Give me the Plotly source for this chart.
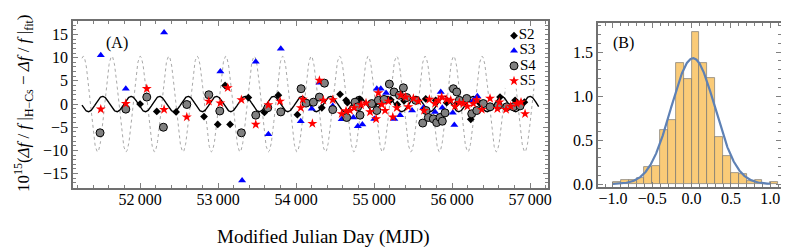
import numpy as np
import plotly.graph_objects as go

# ---------------- data ----------------
s2_mjd = [52000, 52214, 52462, 52820, 52996, 53090, 53154, 53388, 53594, 53773,
          54017, 54330, 54564, 54641, 54658, 54820, 55013, 55214, 55298, 55384,
          55547, 55662, 55790, 55931, 56060, 56240, 56359, 56615, 56808, 56927]
s2_val = [0.0, -1.6, -1.7, -2.7, -4.4, 4.0, -4.4, 1.4, -1.8, 1.9,
          -2.3, -0.8, 2.1, 0.8, 0.3, 1.0, 0.1, 0.9, -0.1, 0.7,
          0.8, 1.1, 0.8, 0.3, 0.1, -3.3, 0.1, 1.5, 0.8, 0.4]

s3_mjd = [51496, 51817, 52308, 53029, 53308, 53483, 53645, 53804, 54060, 54201,
          54299, 54470, 54585, 54735, 54791, 54850, 55003, 55035, 55086, 55154,
          55260, 55333, 55487, 55632, 55782, 55855, 55875, 56009, 56029, 56273, 56324]
s3_val = [10.5, 3.3, 15.4, 7.0, -16.5, 9.1, -6.5, 11.9, -3.7, -1.0,
          4.6, -0.4, -3.3, -2.9, -4.8, -4.4, -3.2, 3.3, 3.3, 2.4,
          -3.2, -2.4, -1.4, -0.8, -1.7, 2.6, -0.8, -1.9, -4.5, 0.8, 1.7]

s4_mjd = [51487, 51817, 52086, 52299, 52599, 52881, 53022, 53299, 53483, 53637,
          53804, 54064, 54128, 54222, 54299, 54364, 54470, 54649, 54756, 54791,
          54820, 54970, 55035, 55055, 55128, 55196, 55256, 55325, 55376, 55419,
          55535, 55624, 55667, 55696, 55760, 55803, 55846, 55875, 55910, 56017,
          56060, 56093, 56188, 56252, 56317, 56401, 56487, 56593, 56701, 56786, 56872]
s4_val = [-6.2, -1.1, 1.5, -5.0, -0.1, 2.0, -1.5, -6.2, -2.4, -0.8,
          -1.7, 3.3, 0.2, 0.4, 1.5, 4.5, -1.2, -2.9, 0.4, -0.6,
          -2.4, 0.1, -1.4, 0.8, 1.0, 4.3, 2.6, 1.9, 3.5, 1.4,
          0.8, -4.1, -1.4, -2.9, -3.2, -4.0, -2.9, -3.7, -1.9, 3.3,
          2.6, 0.8, 1.2, -2.1, -1.4, 0.1, -0.6, -0.3, -0.6, -0.6, -0.4]

s5_mjd = [51496, 51817, 52086, 52308, 52599, 52881, 53029, 53124, 53299, 53483,
          53645, 53795, 54060, 54086, 54209, 54299, 54350, 54470, 54585, 54641,
          54692, 54744, 54833, 54897, 54949, 55026, 55055, 55099, 55141, 55183,
          55240, 55291, 55342, 55406, 55440, 55504, 55568, 55641, 55709, 55782,
          55824, 55867, 55931, 55983, 56038, 56093, 56145, 56196, 56273, 56317,
          56381, 56487, 56581, 56606, 56692, 56752, 56829, 56884, 56936]
s5_val = [-1.1, 0.1, 3.3, -1.2, -2.8, 0.6, 0.2, 3.5, 0.9, -4.4,
          -0.2, 0.6, -0.8, 1.0, -4.2, 5.1, 0.8, 0.9, -2.1, -1.5,
          -1.4, -0.8, -0.2, 0.2, -1.7, -3.2, 2.4, -0.1, -1.4, 0.6,
          -2.8, -0.8, 1.9, 1.5, -0.6, 1.2, 0.6, -1.4, 1.0, 0.1,
          0.8, 1.5, 1.0, 0.8, -0.5, 0.3, 0.1, -0.5, 0.1, 0.9,
          -1.2, 1.2, -1.0, 0.4, -1.2, -0.5, 0.1, 0.4, -2.1]

series_names = ["S2", "S3", "S4", "S5"]

# annual model curves (amplitude, epoch of maximum, period) and their span
curve_start, curve_end = 51255, 57110
fit_amp, fit_t0 = 1.65, 51520
bound_amp, bound_t0 = 10.3, 51637
period = 365.25

# histogram (panel B): bin left edges and normalised heights
bin_left = [-1.0, -0.9, -0.8, -0.7, -0.6, -0.5, -0.4, -0.3, -0.2, -0.1, 0.0,
            0.1, 0.2, 0.3, 0.4, 0.5, 0.6, 0.7, 0.8, 0.9, 1.0]
bin_height = [0.02, 0.05, 0.05, 0.07, 0.19, 0.21, 0.61, 0.73, 1.37, 1.19, 1.73,
              1.37, 1.21, 0.53, 0.32, 0.13, 0.11, 0.03, 0.05, 0.0, 0.02]
bin_width = 0.1
gauss_mu, gauss_sigma = 0.018, 0.279

x_tickvals = [52000, 53000, 54000, 55000, 56000, 57000]
x_ticktext = ["52\u2009000", "53\u2009000", "54\u2009000", "55\u2009000", "56\u2009000", "57\u2009000"]

# ---------------- figure ----------------
FONT = "Liberation Serif"
OFF = 8                       # page body margin
W, H = 789 - OFF, 252 - OFF


def xp(px):
    return (px - OFF) / W


def yp(py):
    return 1 - (py - OFF) / H


fig = go.Figure()

t = np.linspace(curve_start, curve_end, 1500)
fig.add_trace(go.Scatter(x=t, y=bound_amp * np.cos(2 * np.pi * (t - bound_t0) / period),
                         mode="lines", line=dict(color="#a8a8a8", width=1, dash="dot"),
                         showlegend=False, hoverinfo="skip"))
fig.add_trace(go.Scatter(x=t, y=fit_amp * np.cos(2 * np.pi * (t - fit_t0) / period),
                         mode="lines", line=dict(color="black", width=1.4),
                         showlegend=False, hoverinfo="skip"))

styles = [
    dict(symbol="diamond", size=6, color="black"),
    dict(symbol="triangle-up", size=7, color="#0000ff"),
    dict(symbol="circle", size=8, color="#808080", line=dict(color="black", width=1)),
    dict(symbol="star", size=7.5, color="#ff0000"),
]
for name, xs, ys, st in zip(series_names, [s2_mjd, s3_mjd, s4_mjd, s5_mjd],
                            [s2_val, s3_val, s4_val, s5_val], styles):
    fig.add_trace(go.Scatter(x=xs, y=ys, mode="markers", name=name, marker=st, showlegend=False))

# legend drawn on a hidden helper axis (one row per series)
for i, (name, st) in enumerate(zip(series_names, styles)):
    fig.add_trace(go.Scatter(x=[0], y=[i], mode="markers+text", text=[name], textposition="middle right",
                             textfont=dict(family=FONT, size=15, color="black"),
                             marker=st, xaxis="x3", yaxis="y3", showlegend=False, hoverinfo="skip",
                             cliponaxis=False))

# histogram
centers = [b + bin_width / 2 for b in bin_left]
fig.add_trace(go.Bar(x=centers, y=bin_height, width=bin_width, xaxis="x2", yaxis="y2",
                     marker=dict(color="rgb(250,203,120)", line=dict(color="rgba(110,110,110,0.8)", width=0.8)),
                     showlegend=False, hoverinfo="skip"))
g = np.linspace(-1.0, 1.0, 400)
fig.add_trace(go.Scatter(x=g, y=np.exp(-0.5 * ((g - gauss_mu) / gauss_sigma) ** 2) / (gauss_sigma * np.sqrt(2 * np.pi)),
                         xaxis="x2", yaxis="y2", mode="lines",
                         line=dict(color="#5e81b5", width=2.2), showlegend=False, hoverinfo="skip"))

frame = dict(showline=True, mirror="allticks", linecolor="#707070", linewidth=1.5,
             ticks="inside", tickcolor="#808080", ticklen=5, tickwidth=1,
             showgrid=False, zeroline=False, automargin=False, ticklabeloverflow="allow",
             tickfont=dict(family=FONT, size=16, color="black"))

L0, L1, T0, T1 = 73, 548, 21, 188
R0, R1, U0, U1 = 598, 781, 23, 187
hidden = dict(visible=False, showgrid=False, zeroline=False, fixedrange=True)


def label(text, x, y, size, **kw):
    return dict(text=text, x=xp(x), y=yp(y), xref="paper", yref="paper", showarrow=False,
                xanchor="center", yanchor="middle", font=dict(family=FONT, size=size), **kw)


fig.update_layout(
    width=W, height=H, margin=dict(l=0, r=0, t=0, b=0),
    paper_bgcolor="white", plot_bgcolor="white",
    font=dict(family=FONT, size=15, color="black"),
    xaxis=dict(domain=[xp(L0), xp(L1)], range=[51140, 57230], tickvals=x_tickvals, ticktext=x_ticktext,
               ticklabelstandoff=-4,
               minor=dict(ticks="inside", dtick=200, tick0=52000, ticklen=3, tickcolor="#808080"), anchor="y", **frame),
    yaxis=dict(domain=[yp(T1), yp(T0)], range=[-18.1, 17.9], dtick=5, tick0=0,
               minor=dict(ticks="inside", dtick=1, ticklen=3, tickcolor="#808080"), anchor="x", **frame),
    xaxis2=dict(domain=[xp(R0), xp(R1)], range=[-1.19, 1.136], dtick=0.5, tick0=0, tickformat=".1f",
                ticklabelstandoff=-4,
                minor=dict(ticks="inside", dtick=0.1, ticklen=3, tickcolor="#808080"), anchor="y2", **frame),
    yaxis2=dict(domain=[yp(U1), yp(U0)], range=[-0.034, 1.83], dtick=0.5, tick0=0, tickformat=".1f",
                minor=dict(ticks="inside", dtick=0.1, ticklen=3, tickcolor="#808080"), anchor="x2", **frame),
    xaxis3=dict(domain=[xp(505), xp(545)], range=[-0.6, 2.06], anchor="y3", **hidden),
    yaxis3=dict(domain=[yp(88.5), yp(28.1)], range=[3.5, -0.5], anchor="x3", **hidden),
    bargap=0,
    annotations=[
        label("(A)", 117, 43, 16),
        label("(B)", 623, 43, 16),
        label("Modified Julian Day (MJD)", 323, 237, 19),
        label("10<sup>15</sup>(<i>Δf</i> / <i>f</i> |<sub>H−Cs</sub> − <i>Δf</i> / <i>f</i> |<sub>fit</sub>)",
              23, 104, 17, textangle=-90),
    ],
)

fig.write_html("out.html")
